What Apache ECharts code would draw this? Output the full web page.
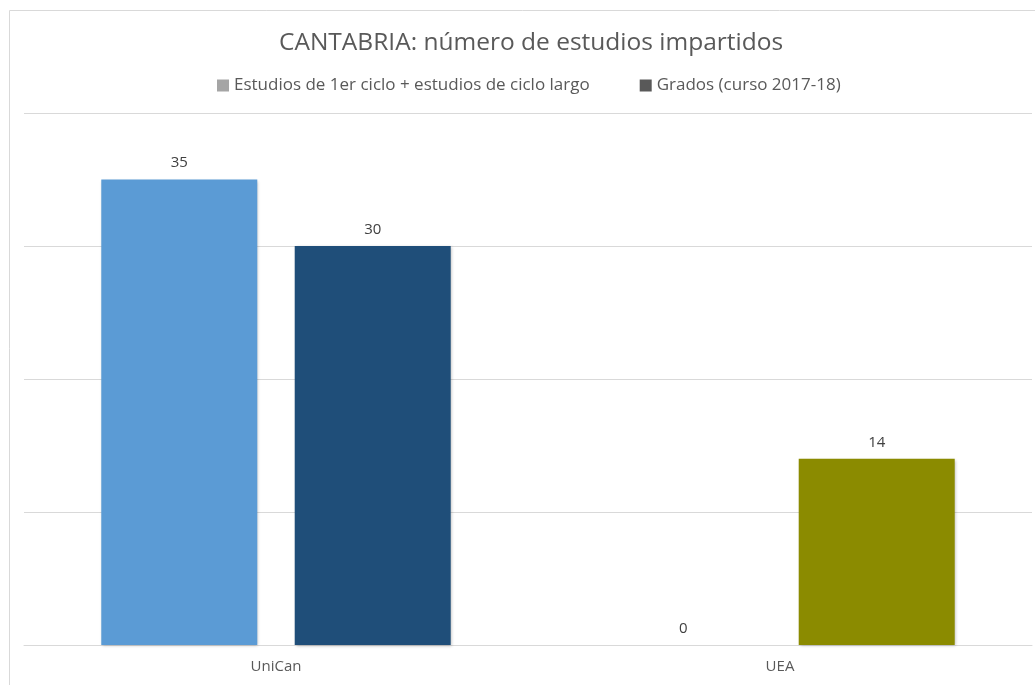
<!DOCTYPE html>
<html>
<head>
<meta charset="utf-8">
<script src="https://cdn.jsdelivr.net/npm/echarts@6/dist/echarts.min.js"></script>
<style>
    html, body { margin: 0; padding: 0; background: #ffffff; }
    #main { width: 1035px; height: 685px; }
</style>
</head>
<body>
<div id="main"></div>
<script>
    var categories = ['UniCan', 'UEA'];
    var ciclo = [35, 0];
    var grados = [30, 14];
    var cicloColors = ['#5B9BD5', '#5B9BD5'];
    var gradosColors = ['#1F4E79', '#8B8B00'];
    var names = ['Estudios de 1er ciclo + estudios de ciclo largo', 'Grados (curso 2017-18)'];

    var font = 'Open Sans';

    function barData(values, colors) {
        return values.map(function (v, i) {
            return { value: v, itemStyle: { color: colors[i] } };
        });
    }

    var barStyle = {
        shadowColor: 'rgba(0,0,0,0.25)',
        shadowBlur: 3,
        shadowOffsetX: 1,
        shadowOffsetY: 1
    };

    echarts.init(document.getElementById('main')).setOption({
        animation: false,
        title: {
            text: 'CANTABRIA: número de estudios impartidos',
            left: 274,
            top: 26,
            textStyle: { fontFamily: font, fontSize: 24.5, fontWeight: 'normal', color: '#595959' }
        },
        legend: {
            top: 72,
            left: 212,
            itemWidth: 12,
            itemHeight: 12,
            itemGap: 50,
            icon: 'rect',
            textStyle: { fontFamily: font, fontSize: 17, color: '#595959' },
            data: [
                { name: names[0], itemStyle: { color: '#A5A5A5' } },
                { name: names[1], itemStyle: { color: '#595959' } }
            ]
        },
        graphic: [{
            type: 'rect',
            shape: { x: 9.5, y: 10.5, width: 1040, height: 690 },
            style: { fill: 'none', stroke: '#D9D9D9', lineWidth: 1 },
            z: -1
        }],
        grid: { left: 24, right: 3, top: 113, bottom: 40 },
        xAxis: {
            type: 'category',
            data: categories,
            axisTick: { show: false },
            axisLine: { lineStyle: { color: '#D9D9D9' } },
            axisLabel: { fontFamily: font, fontSize: 15, color: '#595959', margin: 14 }
        },
        yAxis: {
            type: 'value',
            min: 0,
            max: 40,
            interval: 10,
            axisLabel: { show: false },
            axisLine: { show: false },
            axisTick: { show: false },
            splitLine: { lineStyle: { color: '#D9D9D9' } }
        },
        series: [
            {
                name: names[0],
                type: 'bar',
                data: barData(ciclo, cicloColors),
                barWidth: 156,
                barGap: '24%',
                itemStyle: barStyle,
                label: { show: true, position: 'top', distance: 9, fontFamily: font, fontSize: 15, color: '#404040' }
            },
            {
                name: names[1],
                type: 'bar',
                data: barData(grados, gradosColors),
                barWidth: 156,
                itemStyle: barStyle,
                label: { show: true, position: 'top', distance: 9, fontFamily: font, fontSize: 15, color: '#404040' }
            }
        ]
    });
</script>
</body>
</html>
